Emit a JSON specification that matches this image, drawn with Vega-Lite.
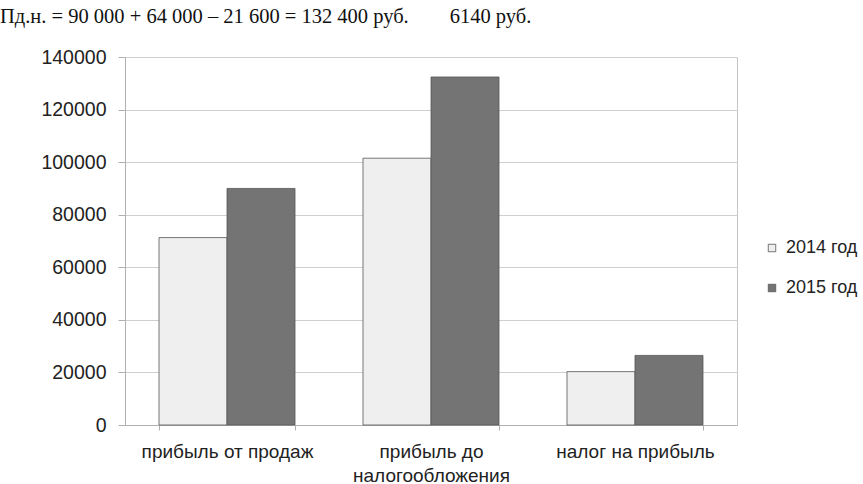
{
  "$schema": "https://vega.github.io/schema/vega-lite/v6.json",
  "width": 612,
  "height": 368,
  "autosize": "none",
  "padding": {"left": 125, "top": 57, "right": 126, "bottom": 59},
  "background": "white",
  "title": {
    "text": "Пд.н. = 90 000 + 64 000 – 21 600 = 132 400 руб.\u00a0\u00a0\u00a0\u00a0\u00a0\u00a0\u00a0 6140 руб.",
    "font": "Liberation Serif",
    "fontSize": 20.5,
    "fontWeight": "normal",
    "color": "#111",
    "anchor": "start",
    "frame": "bounds",
    "dx": -41,
    "offset": 20
  },
  "data": {
    "values": [
      {"category": "прибыль от продаж", "year": "2014 год", "value": 71300},
      {"category": "прибыль от продаж", "year": "2015 год", "value": 90000},
      {"category": "прибыль до налогообложения", "year": "2014 год", "value": 101500},
      {"category": "прибыль до налогообложения", "year": "2015 год", "value": 132400},
      {"category": "налог на прибыль", "year": "2014 год", "value": 20300},
      {"category": "налог на прибыль", "year": "2015 год", "value": 26480}
    ]
  },
  "config": {
    "view": {"stroke": "#c4c4c4", "strokeWidth": 1},
    "font": "Liberation Sans"
  },
  "mark": {"type": "bar", "stroke": "#555", "strokeWidth": 0.8},
  "encoding": {
    "x": {
      "field": "category",
      "type": "nominal",
      "sort": null,
      "scale": {"paddingInner": 0.3333, "paddingOuter": 0.1667},
      "axis": {
        "title": null,
        "labelAngle": 0,
        "labelFontSize": 19,
        "labelColor": "#222",
        "labelPadding": 12,
        "labelLineHeight": 24,
        "labelLimit": 250,
        "labelExpr": "datum.value == 'прибыль до налогообложения' ? ['прибыль до', 'налогообложения'] : datum.value",
        "domainColor": "#b0b0b0",
        "tickColor": "#b0b0b0",
        "tickBand": "extent",
        "tickSize": 5
      }
    },
    "xOffset": {"field": "year", "type": "nominal"},
    "y": {
      "field": "value",
      "type": "quantitative",
      "scale": {"domain": [0, 140000], "nice": false},
      "axis": {
        "title": null,
        "values": [0, 20000, 40000, 60000, 80000, 100000, 120000, 140000],
        "format": "d",
        "labelFontSize": 19.5,
        "labelColor": "#222",
        "labelPadding": 12,
        "domainColor": "#b0b0b0",
        "tickColor": "#b0b0b0",
        "tickSize": 7,
        "gridColor": "#cfcfcf"
      }
    },
    "color": {
      "field": "year",
      "type": "nominal",
      "scale": {"range": ["#efefef", "#747474"]},
      "legend": {
        "title": null,
        "orient": "none",
        "legendX": 638,
        "legendY": 182,
        "symbolType": "square",
        "symbolSize": 56,
        "symbolStrokeColor": "#555",
        "symbolStrokeWidth": 0.8,
        "labelFontSize": 18,
        "labelColor": "#222",
        "rowPadding": 22,
        "labelOffset": 5
      }
    }
  }
}
